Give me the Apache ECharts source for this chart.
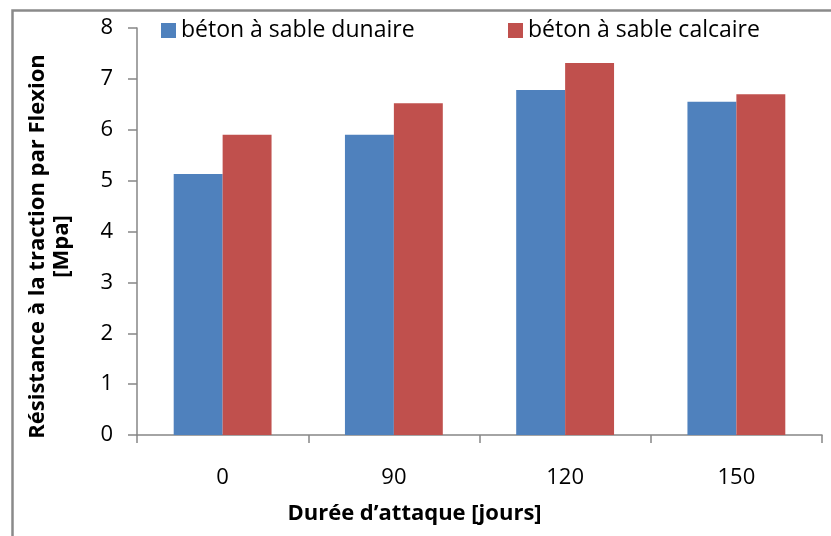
<!DOCTYPE html>
<html>
<head>
<meta charset="utf-8">
<script src="https://cdn.jsdelivr.net/npm/echarts@6/dist/echarts.min.js"></script>
<style>
  html, body { margin: 0; padding: 0; background: #fff; }
  #chart { width: 831px; height: 536px; }
</style>
</head>
<body>
<div id="chart"></div>
<script>
// Durée d'attaque (jours)
const categories = ['0', '90', '120', '150'];
// Résistance à la traction par flexion (MPa)
const dunaire = [5.13, 5.90, 6.78, 6.55];
const calcaire = [5.90, 6.52, 7.31, 6.70];
const seriesNames = ['béton à sable dunaire', 'béton à sable calcaire'];
const yTicks = { min: 0, max: 8, interval: 1 };

const FONT = '"Open Sans", "Liberation Sans", sans-serif';
const axisGrey = '#868686';

const chart = echarts.init(document.getElementById('chart'), null, { renderer: 'canvas' });

const legendBase = {
  icon: 'rect', itemWidth: 15, itemHeight: 15, padding: 0,
  textStyle: { fontFamily: FONT, fontSize: 23, color: '#000' }
};

chart.setOption({
  backgroundColor: '#ffffff',
  animation: false,
  textStyle: { fontFamily: FONT },
  graphic: [{
    type: 'rect',
    left: 10, top: 8,
    shape: { width: 900, height: 600 },
    style: { fill: 'none', stroke: '#8a8a8a', lineWidth: 2.5 },
    silent: true
  }],
  grid: { left: 137, right: 9, top: 28, bottom: 101, containLabel: false },
  legend: [
    Object.assign({ data: [seriesNames[0]], left: 161, top: 19 }, legendBase),
    Object.assign({ data: [seriesNames[1]], left: 508, top: 19 }, legendBase)
  ],
  xAxis: {
    type: 'category',
    data: categories,
    boundaryGap: true,
    axisLine: { lineStyle: { color: axisGrey, width: 1.5 } },
    axisTick: { show: true, length: 8, alignWithLabel: false, lineStyle: { color: axisGrey, width: 1.5 } },
    axisLabel: { fontFamily: FONT, fontSize: 22, color: '#000', margin: 32 },
    name: 'Durée d’attaque [jours]',
    nameLocation: 'middle',
    nameGap: 68,
    nameTextStyle: {
      fontFamily: FONT, fontSize: 22, fontWeight: 'bold', color: '#000',
      padding: [0, 130, 0, 0]
    }
  },
  yAxis: {
    type: 'value',
    min: yTicks.min, max: yTicks.max, interval: yTicks.interval,
    axisLine: { show: true, lineStyle: { color: axisGrey, width: 1.5 } },
    axisTick: { show: true, length: 9, inside: false, lineStyle: { color: axisGrey, width: 1.5 } },
    splitLine: { show: false },
    axisLabel: { fontFamily: FONT, fontSize: 22, color: '#000', margin: 24 },
    name: 'Résistance à la traction par Flexion\n[Mpa]',
    nameLocation: 'middle',
    nameRotate: 90,
    nameGap: 63,
    nameTextStyle: {
      fontFamily: FONT, fontSize: 22, fontWeight: 'bold', color: '#000',
      lineHeight: 24, align: 'center', padding: [0, 30, 0, 0]
    }
  },
  series: [
    {
      name: seriesNames[0], type: 'bar', data: dunaire,
      barGap: '0%', barCategoryGap: '42.86%',
      itemStyle: { color: '#4F81BD' }
    },
    {
      name: seriesNames[1], type: 'bar', data: calcaire,
      barGap: '0%', barCategoryGap: '42.86%',
      itemStyle: { color: '#C0504D' }
    }
  ]
});
</script>
</body>
</html>
